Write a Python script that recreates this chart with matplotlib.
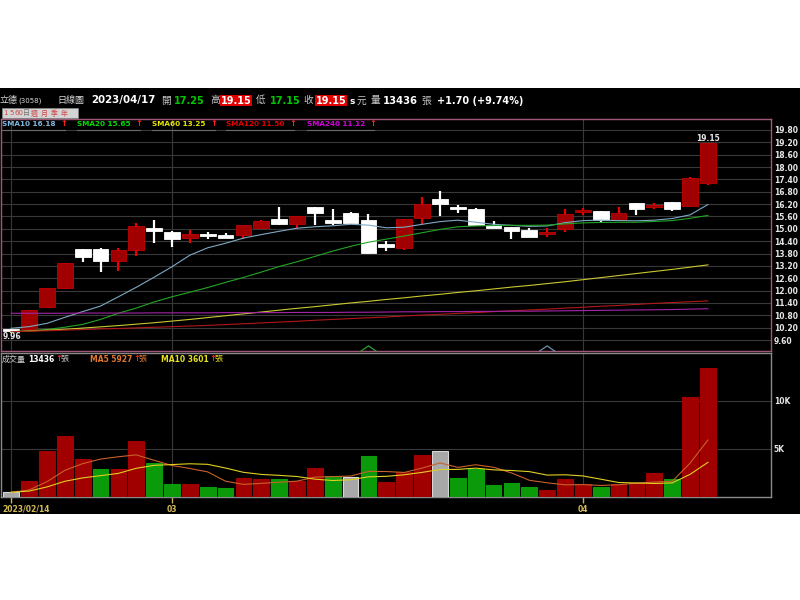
import numpy as np
import matplotlib.pyplot as plt
import matplotlib.transforms as mtransforms
from matplotlib.patches import Rectangle
from matplotlib.lines import Line2D

plt.rcParams['font.family'] = ['DejaVu Sans', 'Noto Sans CJK TC']

# ---- data (立德 3058, daily, 2023/02/14 - 2023/04/17) ----
opens = [10.10, 10.15, 11.20, 12.15, 14.00, 14.00, 13.45, 13.95, 15.05, 14.85,
         14.55, 14.75, 14.70, 14.70, 15.05, 15.50, 15.25, 16.05, 15.45, 15.75,
         15.45, 14.25, 14.05, 15.55, 16.45, 16.05, 15.95, 15.20, 15.10, 14.95,
         14.75, 15.00, 15.80, 15.85, 15.45, 16.25, 16.05, 16.30, 16.10, 17.25]
highs = [10.15, 11.05, 12.15, 13.35, 14.00, 14.05, 14.05, 15.30, 15.45, 14.90,
         14.95, 14.85, 14.80, 15.20, 15.45, 16.05, 15.60, 16.05, 15.95, 15.80,
         15.70, 14.40, 15.50, 16.55, 16.85, 16.15, 16.00, 15.40, 15.10, 15.05,
         15.05, 15.95, 16.00, 15.85, 16.05, 16.25, 16.25, 16.30, 17.50, 19.15]
lows = [9.96, 10.10, 11.20, 12.10, 13.40, 12.90, 12.95, 13.70, 14.30, 14.10,
        14.30, 14.50, 14.55, 14.50, 15.05, 15.20, 15.05, 15.20, 15.20, 15.30,
        13.80, 13.90, 13.95, 15.20, 15.60, 15.75, 15.20, 15.05, 14.50, 14.60,
        14.60, 14.85, 15.65, 15.35, 15.40, 15.65, 15.95, 15.85, 16.10, 17.15]
closes = [10.05, 11.05, 12.15, 13.35, 13.65, 13.45, 13.95, 15.15, 14.90, 14.50,
          14.75, 14.65, 14.55, 15.20, 15.40, 15.25, 15.60, 15.75, 15.30, 15.30,
          13.85, 14.10, 15.50, 16.20, 16.20, 15.95, 15.20, 15.05, 14.90, 14.60,
          14.80, 15.70, 15.85, 15.45, 15.75, 15.95, 16.15, 15.95, 17.45, 19.15]
volume = [480, 1650, 4820, 6380, 4000, 2860, 2860, 5790, 3580, 1300,
          1300, 1070, 960, 1930, 1820, 1890, 1650, 3060, 2160, 2130,
          4310, 1580, 2580, 4410, 4820, 2000, 2960, 1270, 1480, 990,
          680, 1900, 1400, 1030, 1364, 1500, 2450, 1850, 10400, 13436]

sma10 = [10.17, 10.25, 10.41, 10.70, 10.98, 11.25, 11.70, 12.16, 12.65, 13.16,
         13.72, 14.08, 14.30, 14.55, 14.72, 14.88, 15.03, 15.10, 15.15, 15.22,
         15.18, 15.05, 15.08, 15.22, 15.35, 15.42, 15.32, 15.22, 15.17, 15.12,
         15.14, 15.30, 15.40, 15.42, 15.40, 15.39, 15.42, 15.50, 15.68, 16.18]
sma20 = [10.00, 10.05, 10.11, 10.22, 10.36, 10.60, 10.90, 11.15, 11.45, 11.70,
         11.92, 12.15, 12.40, 12.64, 12.90, 13.17, 13.40, 13.66, 13.92, 14.15,
         14.35, 14.50, 14.65, 14.81, 14.97, 15.10, 15.14, 15.16, 15.17, 15.17,
         15.18, 15.24, 15.29, 15.31, 15.32, 15.32, 15.36, 15.40, 15.51, 15.65]
sma60 = [10.00, 10.04, 10.08, 10.12, 10.18, 10.24, 10.30, 10.37, 10.44, 10.52,
         10.60, 10.69, 10.78, 10.87, 10.96, 11.05, 11.14, 11.22, 11.31, 11.40,
         11.48, 11.57, 11.65, 11.74, 11.82, 11.91, 11.99, 12.08, 12.17, 12.25,
         12.34, 12.43, 12.53, 12.63, 12.73, 12.83, 12.93, 13.03, 13.14, 13.25]
sma120 = [10.00, 10.03, 10.05, 10.08, 10.11, 10.14, 10.16, 10.19, 10.22, 10.25,
          10.28, 10.31, 10.35, 10.39, 10.43, 10.47, 10.51, 10.56, 10.60, 10.64,
          10.68, 10.72, 10.77, 10.81, 10.85, 10.89, 10.93, 10.98, 11.02, 11.06,
          11.10, 11.15, 11.19, 11.24, 11.28, 11.33, 11.38, 11.42, 11.46, 11.50]
sma240 = [10.90, 10.90, 10.90, 10.90, 10.91, 10.91, 10.91, 10.91, 10.92, 10.92,
          10.92, 10.92, 10.93, 10.93, 10.93, 10.93, 10.94, 10.94, 10.94, 10.95,
          10.95, 10.96, 10.97, 10.97, 10.98, 10.98, 10.99, 10.99, 11.00, 11.00,
          11.01, 11.02, 11.03, 11.04, 11.05, 11.06, 11.07, 11.08, 11.10, 11.12]

vol_ma5 = [496, 726, 1590, 2766, 3466, 3942, 4184, 4378, 3818, 3278,
           2966, 2608, 1642, 1312, 1416, 1534, 1650, 2070, 2116, 2178,
           2662, 2648, 2552, 3002, 3540, 3078, 3354, 3092, 2506, 1740,
           1476, 1264, 1290, 1200, 1275, 1439, 1549, 1639, 3513, 5927]
vol_ma10 = [498, 613, 1045, 1633, 1983, 2219, 2455, 2984, 3292, 3372,
            3454, 3396, 3010, 2565, 2347, 2250, 2129, 1856, 1714, 1797,
            2098, 2149, 2311, 2559, 2859, 2870, 3001, 2822, 2754, 2640,
            2277, 2309, 2191, 1853, 1507, 1457, 1406, 1464, 2356, 3601]

tick_idx = [0, 9, 32]
tick_labels = ['2023/02/14', '03', '04']
price_ticks = [19.80, 19.20, 18.60, 18.00, 17.40, 16.80, 16.20, 15.60, 15.00,
               14.40, 13.80, 13.20, 12.60, 12.00, 11.40, 10.80, 10.20, 9.60]
vol_ticks = [5000, 10000]
vol_tick_labels = ['5K', '10K']
signal_idx = [20, 30]
signal_colors = ['#2f9f2f', '#6f90a8']

sma_names = ['SMA10', 'SMA20', 'SMA60', 'SMA120', 'SMA240']
sma_series = [sma10, sma20, sma60, sma120, sma240]
sma_line_colors = ['#7fa9c4', '#22a622', '#c8c832', '#b01818', '#a424a8']
sma_text_colors = ['#7fb8e0', '#00dd00', '#e6e600', '#e00000', '#d000d8']

# ---- figure ----
W, H = 800, 600
fig = plt.figure(figsize=(8, 6), dpi=100, facecolor='white')
fig.patches.append(Rectangle((0, 1 - 514 / H), 1, 426 / H, transform=fig.transFigure,
                             facecolor='black', edgecolor='none', zorder=-10))


def fx(px):
    return px / W


def fy(py):
    return 1 - py / H


def ftext(px, py, s, color='#d0d0d0', size=6, bold=False, **kw):
    fig.text(fx(px), fy(py), s, color=color, fontsize=size,
             fontweight='bold' if bold else 'normal', va='center', ha='left', **kw)


x = np.arange(len(closes))
o = np.array(opens)
c = np.array(closes)
xlim = (-0.57, 42.53)

# ---- price panel ----
ax = fig.add_axes([fx(1), fy(351), fx(771) - fx(1), (351 - 119) / H])
ax.set_facecolor('black')
ax.set_xlim(*xlim)
ax.set_ylim(9.067, 20.334)
ax.set_yticks(price_ticks)
ax.set_yticklabels([f'{t:.2f}' for t in price_ticks])
ax.yaxis.tick_right()
ax.tick_params(axis='y', length=0, pad=2, labelsize=5.5, labelcolor='#e6e6e6')
for lab in ax.get_yticklabels():
    lab.set_fontweight('bold')
ax.set_xticks(tick_idx)
ax.tick_params(axis='x', length=0, labelbottom=False)
ax.grid(True, color='#383838', lw=0.8)
ax.set_axisbelow(True)
for sp in ax.spines.values():
    sp.set_color('#a05878')
    sp.set_linewidth(1)

up = c > o
wick_col = np.where(up, '#ee0000', '#ffffff')
body_col = np.where(up, '#a00000', '#ffffff')
edge_col = np.where(up, '#c40000', '#ffffff')
ax.vlines(x, lows, highs, colors=wick_col, lw=1.6, zorder=3)
ax.bar(x, np.maximum(np.abs(c - o), 0.1), bottom=np.minimum(o, c), width=0.88,
       color=body_col, edgecolor=edge_col, lw=0.6, zorder=4)

for s, col in zip(sma_series, sma_line_colors):
    ax.plot(x, s, color=col, lw=0.8, zorder=5)

blend = mtransforms.blended_transform_factory(ax.transData, ax.transAxes)
for i, col in zip(signal_idx, signal_colors):
    ax.plot([i - 0.42, i, i + 0.42], [0.0, 0.022, 0.0], color=col, lw=0.9,
            transform=blend, clip_on=False, zorder=6)

imin = int(np.argmin(lows))
imax = int(np.argmax(highs))
ax.annotate(f'{lows[imin]:.2f}', xy=(imin, lows[imin]), xytext=(-6, -2.5),
            textcoords='offset points', ha='left', va='center', color='#e6e6e6',
            fontsize=5.5, fontweight='bold', zorder=7)
ax.annotate(f'{highs[imax]:.2f}', xy=(imax, highs[imax]), xytext=(0, 3.5),
            textcoords='offset points', ha='center', va='center', color='#e6e6e6',
            fontsize=5.5, fontweight='bold', zorder=7)

# ---- volume panel ----
vx = fig.add_axes([fx(1), fy(497), fx(771) - fx(1), (497 - 353) / H])
vx.set_facecolor('black')
vx.set_xlim(*xlim)
vx.set_ylim(0, 14970)
vx.set_yticks(vol_ticks)
vx.set_yticklabels(vol_tick_labels)
vx.yaxis.tick_right()
vx.tick_params(axis='y', length=0, pad=2, labelsize=5.5, labelcolor='#e6e6e6')
for lab in vx.get_yticklabels():
    lab.set_fontweight('bold')
vx.set_xticks(tick_idx)
vx.set_xticklabels(tick_labels)
vx.tick_params(axis='x', length=4, width=1, color='#c8b450', direction='out',
               pad=1.5, labelsize=5.5, labelcolor='#d2bc5a')
xl = vx.get_xticklabels()
for lab in xl:
    lab.set_fontweight('bold')
xl[0].set_ha('left')
xl[0].set_transform(xl[0].get_transform() +
                    mtransforms.ScaledTranslation(-9 / 100, 0, fig.dpi_scale_trans))
vx.grid(True, color='#383838', lw=0.8)
vx.set_axisbelow(True)
for sp in vx.spines.values():
    sp.set_color('#8a8a8a')
    sp.set_linewidth(1)

diff = np.round(np.diff(c), 2)
vcol = ['#a8a8a8'] + ['#a00000' if d > 0 else ('#0a9a0a' if d < 0 else '#a8a8a8') for d in diff]
vedge = ['#d8d8d8' if col == '#a8a8a8' else col for col in vcol]
vx.bar(x, volume, width=0.88, color=vcol, edgecolor=vedge, lw=0.8, zorder=3)
vx.plot(x, vol_ma5, color='#c8602a', lw=0.8, zorder=4)
vx.plot(x, vol_ma10, color='#e0d020', lw=0.8, zorder=4)

# ---- header texts ----
ftext(0, 100.5, '立德', '#d8d8d8', 6.5)
ftext(18, 101, '(3058)', '#d8d8d8', 5)
ftext(57, 100.5, '日線圖', '#d8d8d8', 6.5)
ftext(91, 100.5, '2023/04/17', '#ffffff', 7.4, True)
ftext(161, 100.5, '開', '#c8c8c8', 7)
ftext(174, 100.5, f'{opens[-1]:.2f}', '#00c800', 7, True)
ftext(210, 100.5, '高', '#c8c8c8', 7)
ftext(221, 100.5, f'{highs[-1]:.2f}', '#ffffff', 7, True,
      bbox=dict(facecolor='#e00000', edgecolor='none', pad=0.4))
ftext(256, 100.5, '低', '#c8c8c8', 7)
ftext(270, 100.5, f'{lows[-1]:.2f}', '#00c800', 7, True)
ftext(303, 100.5, '收', '#c8c8c8', 7)
ftext(316, 100.5, f'{closes[-1]:.2f}', '#ffffff', 7, True,
      bbox=dict(facecolor='#e00000', edgecolor='none', pad=0.4))
ftext(349, 101, 's', '#ffffff', 6.5, True)
ftext(357, 100.5, '元', '#c8c8c8', 7)
ftext(371, 100.5, '量', '#c8c8c8', 7)
ftext(383, 100.5, f'{volume[-1]}', '#ffffff', 7.2, True)
ftext(421, 100.5, '張', '#c8c8c8', 7)
chg = closes[-1] - closes[-2]
ftext(437, 100.5, f'+{chg:.2f} (+{chg / closes[-2] * 100:.2f}%)', '#ffffff', 7, True)

# period buttons
fig.patches.append(Rectangle((fx(2), fy(118)), fx(78) - fx(2), 10 / H, transform=fig.transFigure,
                             facecolor='#d4d4d4', edgecolor='#8a8a8a', lw=0.5, zorder=1))
for px, s, col in [(3.5, '1', '#d04848'), (9, '5', '#d04848'), (14.5, '60', '#d04848'),
                   (22.5, '日', '#707070'), (30.5, '週', '#d04848'), (40.5, '月', '#d04848'),
                   (50.5, '季', '#d04848'), (61, '年', '#d04848')]:
    ftext(px, 113, s, col, 5)

# SMA legend
sma_x = [2, 77, 152, 226, 307]
arrow_x = [60, 135, 210, 289, 369]
for name, s, col, tx, axx in zip(sma_names, sma_series, sma_text_colors, sma_x, arrow_x):
    ftext(tx, 124.5, f'{name} {s[-1]:.2f}', col, 5.2, True)
    ftext(axx, 124, '↑', '#ff2020', 6, True)
    fig.add_artist(Line2D([fx(tx), fx(axx + 5)], [fy(129.5), fy(129.5)], color='#6a6a6a', lw=0.8))

# volume legend
ftext(2, 359, '成交量', '#d0d0d0', 5.8)
ftext(28, 359, f'{volume[-1]}', '#ffffff', 5.5, True)
ftext(55, 358.5, '↑', '#ff2020', 6, True)
ftext(61, 359, '張', '#c8c8c8', 5.8)
ftext(90, 359, f'MA5 {vol_ma5[-1]}', '#e07830', 5.5, True)
ftext(133, 358.5, '↑', '#ff2020', 6, True)
ftext(139, 359, '張', '#e07830', 5.8)
ftext(161, 359, f'MA10 {vol_ma10[-1]}', '#e6e020', 5.5, True)
ftext(209, 358.5, '↑', '#ff2020', 6, True)
ftext(215, 359, '張', '#e6e020', 5.8)

fig.savefig('out.png', dpi=100, facecolor='white')
